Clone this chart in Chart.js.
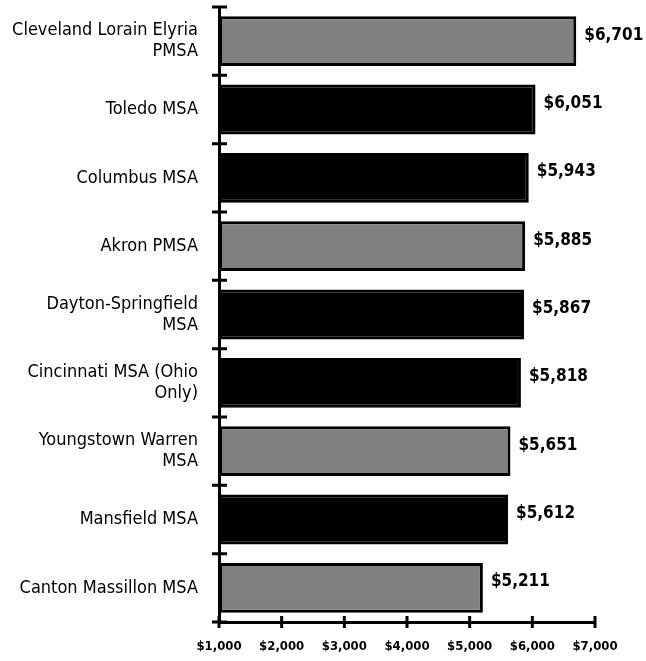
<!DOCTYPE html>
<html>
<head>
<meta charset="utf-8">
<script src="https://cdn.jsdelivr.net/npm/chart.js@4"></script>
<style>
  html, body { margin: 0; padding: 0; background: #fff; }
  #wrap { width: 646px; height: 661px; }
</style>
</head>
<body>
<div id="wrap"><canvas id="costChart"></canvas></div>
<script>
const areas = [
    ['Cleveland Lorain Elyria', 'PMSA'],
    'Toledo MSA',
    'Columbus MSA',
    'Akron PMSA',
    ['Dayton-Springfield', 'MSA'],
    ['Cincinnati MSA (Ohio', 'Only)'],
    ['Youngstown Warren', 'MSA'],
    'Mansfield MSA',
    'Canton Massillon MSA'
];
const costs = [6701, 6051, 5943, 5885, 5867, 5818, 5651, 5612, 5211];
const barColors = ['#808080', '#000000', '#000000', '#808080', '#000000', '#000000', '#808080', '#000000', '#808080'];
const xTicks = [1000, 2000, 3000, 4000, 5000, 6000, 7000];

const FONT = "'Liberation Sans Narrow', 'Arial Narrow', 'DejaVu Sans Condensed', sans-serif";

function money(v) {
    return '$' + v.toLocaleString('en-US');
}

// tick marks that cross the axis lines on both sides
const crossTicks = {
    id: 'crossTicks',
    afterDraw(chart) {
        const ctx = chart.ctx;
        const x = chart.scales.x, y = chart.scales.y;
        ctx.save();
        ctx.strokeStyle = '#000';
        ctx.lineWidth = 3;
        ctx.beginPath();
        xTicks.forEach(v => {
            const px = x.getPixelForValue(v);
            ctx.moveTo(px, y.bottom - 6);
            ctx.lineTo(px, y.bottom + 6);
        });
        const half = (y.getPixelForValue(1) - y.getPixelForValue(0)) / 2;
        for (let i = 0; i <= areas.length; i++) {
            const py = y.getPixelForValue(i) - half;
            ctx.moveTo(x.left - 7, py);
            ctx.lineTo(x.left + 8, py);
        }
        ctx.stroke();
        ctx.restore();
    }
};

// value labels at the end of each bar
const barValues = {
    id: 'barValues',
    afterDatasetsDraw(chart) {
        const ctx = chart.ctx;
        const meta = chart.getDatasetMeta(0);
        ctx.save();
        ctx.fillStyle = '#000';
        ctx.font = 'bold 17px ' + FONT;
        ctx.textAlign = 'left';
        ctx.textBaseline = 'middle';
        meta.data.forEach((bar, i) => {
            ctx.fillText(money(costs[i]), bar.x + 8, bar.y - 6);
        });
        ctx.restore();
    }
};

new Chart(document.getElementById('costChart'), {
    type: 'bar',
    data: {
        labels: areas,
        datasets: [{
            data: costs,
            base: 1000,
            backgroundColor: barColors,
            borderColor: '#000',
            borderWidth: 3,
            borderSkipped: false,
            barPercentage: 0.73,
            categoryPercentage: 1
        }]
    },
    options: {
        indexAxis: 'y',
        responsive: true,
        maintainAspectRatio: false,
        animation: false,
        layout: { padding: { top: 7, right: 51, left: 0, bottom: 0 } },
        plugins: { legend: { display: false }, tooltip: { enabled: false } },
        scales: {
            x: {
                min: 1000,
                max: 7000,
                ticks: {
                    stepSize: 1000,
                    padding: 9,
                    color: '#000',
                    font: { family: FONT, size: 13, weight: 'bold' },
                    callback: v => money(v)
                },
                grid: { display: false },
                border: { color: '#000', width: 3 },
                afterFit: s => { s.height = 39; s.paddingLeft = 0; s.paddingRight = 0; }
            },
            y: {
                ticks: {
                    padding: 13,
                    color: '#000',
                    font: { family: FONT, size: 18, lineHeight: 1.17 },
                },
                grid: { display: false, offset: true },
                border: { color: '#000', width: 3 },
                afterFit: s => { s.width = 219; s.paddingTop = 0; s.paddingBottom = 0; }
            }
        }
    },
    plugins: [crossTicks, barValues]
});
</script>
</body>
</html>
